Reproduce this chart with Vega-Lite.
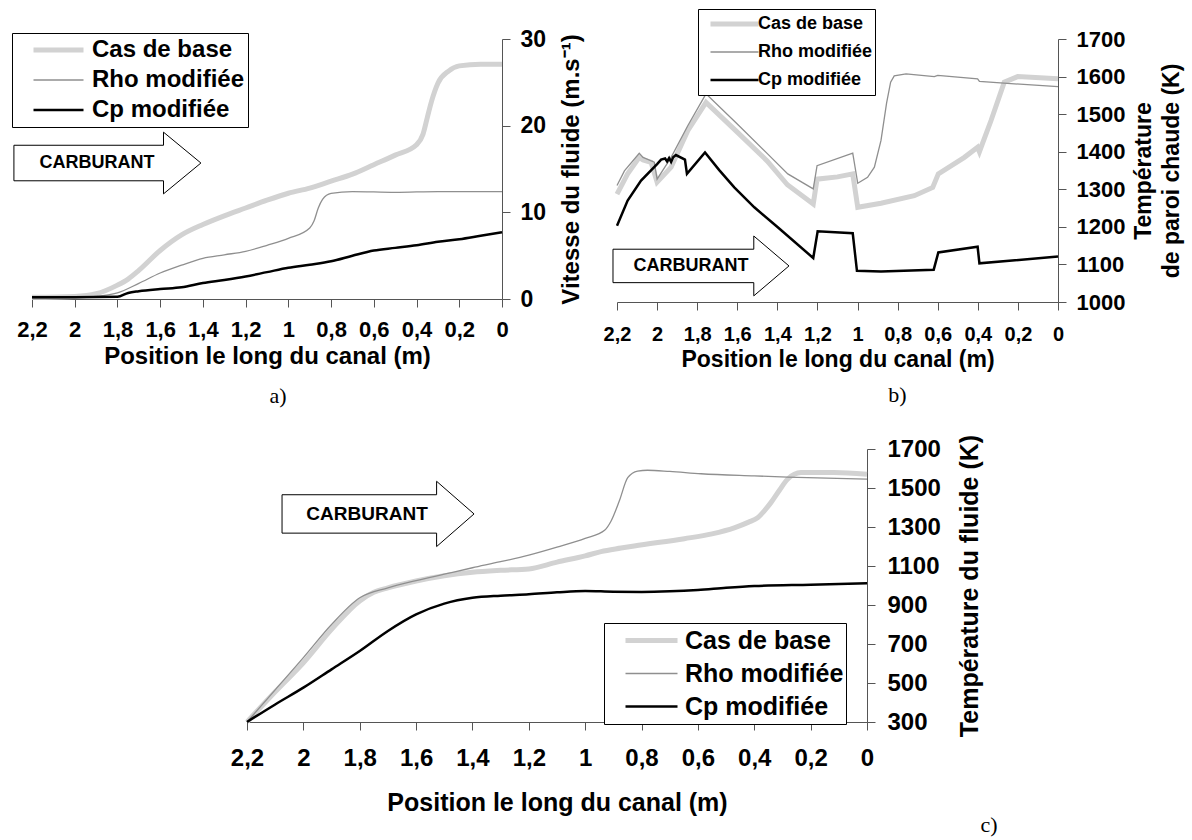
{
  "$schema": "https://vega.github.io/schema/vega-lite/v6.json",
  "padding": {"left": 11, "top": 8, "right": 2, "bottom": 2},
  "background": "white",
  "config": {
    "font": "Liberation Sans",
    "view": {"stroke": null},
    "axis": {"grid": false, "labelFont": "Liberation Sans", "labelFontWeight": "bold", "labelColor": "black", "titleFont": "Liberation Sans", "titleFontWeight": "bold", "titleColor": "black", "domainColor": "#555555", "tickColor": "#555555", "tickSize": 8, "labelFlush": false, "labelOverlap": false},
    "legend": {"symbolType": "stroke", "labelFont": "Liberation Sans", "labelFontWeight": "bold", "labelColor": "black", "strokeColor": "black", "fillColor": "white", "orient": "none", "title": null, "labelLimit": 400},
    "title": {"font": "Liberation Serif", "fontWeight": "normal", "color": "black"}
  },
  "datasets": {
    "a": [
      {"position": 2.2, "valeur": 0.2, "serie": "Cas de base"},
      {"position": 2.0, "valeur": 0.3, "serie": "Cas de base"},
      {"position": 1.9, "valeur": 0.6, "serie": "Cas de base"},
      {"position": 1.8, "valeur": 1.6, "serie": "Cas de base"},
      {"position": 1.75, "valeur": 2.3, "serie": "Cas de base"},
      {"position": 1.7, "valeur": 3.3, "serie": "Cas de base"},
      {"position": 1.6, "valeur": 5.6, "serie": "Cas de base"},
      {"position": 1.5, "valeur": 7.4, "serie": "Cas de base"},
      {"position": 1.4, "valeur": 8.6, "serie": "Cas de base"},
      {"position": 1.3, "valeur": 9.6, "serie": "Cas de base"},
      {"position": 1.2, "valeur": 10.5, "serie": "Cas de base"},
      {"position": 1.1, "valeur": 11.4, "serie": "Cas de base"},
      {"position": 1.0, "valeur": 12.2, "serie": "Cas de base"},
      {"position": 0.9, "valeur": 12.8, "serie": "Cas de base"},
      {"position": 0.8, "valeur": 13.6, "serie": "Cas de base"},
      {"position": 0.7, "valeur": 14.4, "serie": "Cas de base"},
      {"position": 0.6, "valeur": 15.5, "serie": "Cas de base"},
      {"position": 0.5, "valeur": 16.6, "serie": "Cas de base"},
      {"position": 0.4, "valeur": 17.8, "serie": "Cas de base"},
      {"position": 0.37, "valeur": 19.0, "serie": "Cas de base"},
      {"position": 0.35, "valeur": 20.9, "serie": "Cas de base"},
      {"position": 0.33, "valeur": 22.8, "serie": "Cas de base"},
      {"position": 0.3, "valeur": 24.9, "serie": "Cas de base"},
      {"position": 0.25, "valeur": 26.3, "serie": "Cas de base"},
      {"position": 0.2, "valeur": 26.9, "serie": "Cas de base"},
      {"position": 0.1, "valeur": 27.1, "serie": "Cas de base"},
      {"position": 0.0, "valeur": 27.1, "serie": "Cas de base"},
      {"position": 2.2, "valeur": 0.1, "serie": "Rho modifiée"},
      {"position": 2.0, "valeur": 0.2, "serie": "Rho modifiée"},
      {"position": 1.9, "valeur": 0.3, "serie": "Rho modifiée"},
      {"position": 1.8, "valeur": 0.7, "serie": "Rho modifiée"},
      {"position": 1.7, "valeur": 1.8, "serie": "Rho modifiée"},
      {"position": 1.6, "valeur": 3.0, "serie": "Rho modifiée"},
      {"position": 1.5, "valeur": 3.9, "serie": "Rho modifiée"},
      {"position": 1.4, "valeur": 4.7, "serie": "Rho modifiée"},
      {"position": 1.3, "valeur": 5.1, "serie": "Rho modifiée"},
      {"position": 1.2, "valeur": 5.5, "serie": "Rho modifiée"},
      {"position": 1.1, "valeur": 6.2, "serie": "Rho modifiée"},
      {"position": 1.0, "valeur": 7.0, "serie": "Rho modifiée"},
      {"position": 0.9, "valeur": 8.2, "serie": "Rho modifiée"},
      {"position": 0.88, "valeur": 9.0, "serie": "Rho modifiée"},
      {"position": 0.86, "valeur": 10.5, "serie": "Rho modifiée"},
      {"position": 0.84, "valeur": 11.5, "serie": "Rho modifiée"},
      {"position": 0.8, "valeur": 12.2, "serie": "Rho modifiée"},
      {"position": 0.7, "valeur": 12.4, "serie": "Rho modifiée"},
      {"position": 0.5, "valeur": 12.3, "serie": "Rho modifiée"},
      {"position": 0.3, "valeur": 12.4, "serie": "Rho modifiée"},
      {"position": 0.0, "valeur": 12.4, "serie": "Rho modifiée"},
      {"position": 2.2, "valeur": 0.2, "serie": "Cp modifiée"},
      {"position": 2.0, "valeur": 0.2, "serie": "Cp modifiée"},
      {"position": 1.8, "valeur": 0.25, "serie": "Cp modifiée"},
      {"position": 1.75, "valeur": 0.7, "serie": "Cp modifiée"},
      {"position": 1.7, "valeur": 0.9, "serie": "Cp modifiée"},
      {"position": 1.6, "valeur": 1.15, "serie": "Cp modifiée"},
      {"position": 1.5, "valeur": 1.35, "serie": "Cp modifiée"},
      {"position": 1.4, "valeur": 1.85, "serie": "Cp modifiée"},
      {"position": 1.3, "valeur": 2.2, "serie": "Cp modifiée"},
      {"position": 1.2, "valeur": 2.6, "serie": "Cp modifiée"},
      {"position": 1.1, "valeur": 3.1, "serie": "Cp modifiée"},
      {"position": 1.0, "valeur": 3.6, "serie": "Cp modifiée"},
      {"position": 0.9, "valeur": 3.95, "serie": "Cp modifiée"},
      {"position": 0.8, "valeur": 4.35, "serie": "Cp modifiée"},
      {"position": 0.7, "valeur": 5.0, "serie": "Cp modifiée"},
      {"position": 0.6, "valeur": 5.6, "serie": "Cp modifiée"},
      {"position": 0.5, "valeur": 5.9, "serie": "Cp modifiée"},
      {"position": 0.4, "valeur": 6.2, "serie": "Cp modifiée"},
      {"position": 0.3, "valeur": 6.6, "serie": "Cp modifiée"},
      {"position": 0.2, "valeur": 6.9, "serie": "Cp modifiée"},
      {"position": 0.1, "valeur": 7.3, "serie": "Cp modifiée"},
      {"position": 0.0, "valeur": 7.7, "serie": "Cp modifiée"}
    ],
    "b": [
      {"position": 2.2, "valeur": 1287, "serie": "Cas de base"},
      {"position": 2.147, "valeur": 1341, "serie": "Cas de base"},
      {"position": 2.089, "valeur": 1385, "serie": "Cas de base"},
      {"position": 2.07, "valeur": 1378, "serie": "Cas de base"},
      {"position": 2.03, "valeur": 1372, "serie": "Cas de base"},
      {"position": 2.0, "valeur": 1319, "serie": "Cas de base"},
      {"position": 1.93, "valeur": 1359, "serie": "Cas de base"},
      {"position": 1.847, "valeur": 1456, "serie": "Cas de base"},
      {"position": 1.756, "valeur": 1531, "serie": "Cas de base"},
      {"position": 1.6, "valeur": 1452, "serie": "Cas de base"},
      {"position": 1.45, "valeur": 1375, "serie": "Cas de base"},
      {"position": 1.35, "valeur": 1312, "serie": "Cas de base"},
      {"position": 1.221, "valeur": 1261, "serie": "Cas de base"},
      {"position": 1.202, "valeur": 1327, "serie": "Cas de base"},
      {"position": 1.1, "valeur": 1333, "serie": "Cas de base"},
      {"position": 1.024, "valeur": 1341, "serie": "Cas de base"},
      {"position": 0.999, "valeur": 1252, "serie": "Cas de base"},
      {"position": 0.883, "valeur": 1263, "serie": "Cas de base"},
      {"position": 0.717, "valeur": 1283, "serie": "Cas de base"},
      {"position": 0.625, "valeur": 1305, "serie": "Cas de base"},
      {"position": 0.597, "valeur": 1341, "serie": "Cas de base"},
      {"position": 0.467, "valeur": 1385, "serie": "Cas de base"},
      {"position": 0.401, "valeur": 1412, "serie": "Cas de base"},
      {"position": 0.392, "valeur": 1400, "serie": "Cas de base"},
      {"position": 0.334, "valeur": 1483, "serie": "Cas de base"},
      {"position": 0.268, "valeur": 1585, "serie": "Cas de base"},
      {"position": 0.201, "valeur": 1600, "serie": "Cas de base"},
      {"position": 0.0, "valeur": 1594, "serie": "Cas de base"},
      {"position": 2.2, "valeur": 1310, "serie": "Rho modifiée"},
      {"position": 2.163, "valeur": 1349, "serie": "Rho modifiée"},
      {"position": 2.089, "valeur": 1396, "serie": "Rho modifiée"},
      {"position": 2.07, "valeur": 1385, "serie": "Rho modifiée"},
      {"position": 2.014, "valeur": 1372, "serie": "Rho modifiée"},
      {"position": 2.0, "valeur": 1327, "serie": "Rho modifiée"},
      {"position": 1.93, "valeur": 1385, "serie": "Rho modifiée"},
      {"position": 1.847, "valeur": 1469, "serie": "Rho modifiée"},
      {"position": 1.756, "valeur": 1554, "serie": "Rho modifiée"},
      {"position": 1.6, "valeur": 1474, "serie": "Rho modifiée"},
      {"position": 1.45, "valeur": 1395, "serie": "Rho modifiée"},
      {"position": 1.348, "valeur": 1341, "serie": "Rho modifiée"},
      {"position": 1.221, "valeur": 1301, "serie": "Rho modifiée"},
      {"position": 1.202, "valeur": 1363, "serie": "Rho modifiée"},
      {"position": 1.024, "valeur": 1396, "serie": "Rho modifiée"},
      {"position": 0.999, "valeur": 1316, "serie": "Rho modifiée"},
      {"position": 0.95, "valeur": 1332, "serie": "Rho modifiée"},
      {"position": 0.916, "valeur": 1359, "serie": "Rho modifiée"},
      {"position": 0.883, "valeur": 1430, "serie": "Rho modifiée"},
      {"position": 0.855, "valeur": 1530, "serie": "Rho modifiée"},
      {"position": 0.835, "valeur": 1585, "serie": "Rho modifiée"},
      {"position": 0.817, "valeur": 1602, "serie": "Rho modifiée"},
      {"position": 0.758, "valeur": 1607, "serie": "Rho modifiée"},
      {"position": 0.617, "valeur": 1600, "serie": "Rho modifiée"},
      {"position": 0.6, "valeur": 1603, "serie": "Rho modifiée"},
      {"position": 0.401, "valeur": 1594, "serie": "Rho modifiée"},
      {"position": 0.392, "valeur": 1587, "serie": "Rho modifiée"},
      {"position": 0.0, "valeur": 1573, "serie": "Rho modifiée"},
      {"position": 2.2, "valeur": 1203, "serie": "Cp modifiée"},
      {"position": 2.147, "valeur": 1270, "serie": "Cp modifiée"},
      {"position": 2.08, "valeur": 1323, "serie": "Cp modifiée"},
      {"position": 2.0, "valeur": 1367, "serie": "Cp modifiée"},
      {"position": 1.98, "valeur": 1379, "serie": "Cp modifiée"},
      {"position": 1.96, "valeur": 1382, "serie": "Cp modifiée"},
      {"position": 1.95, "valeur": 1374, "serie": "Cp modifiée"},
      {"position": 1.94, "valeur": 1383, "serie": "Cp modifiée"},
      {"position": 1.93, "valeur": 1373, "serie": "Cp modifiée"},
      {"position": 1.92, "valeur": 1385, "serie": "Cp modifiée"},
      {"position": 1.906, "valeur": 1391, "serie": "Cp modifiée"},
      {"position": 1.861, "valeur": 1379, "serie": "Cp modifiée"},
      {"position": 1.851, "valeur": 1341, "serie": "Cp modifiée"},
      {"position": 1.761, "valeur": 1398, "serie": "Cp modifiée"},
      {"position": 1.69, "valeur": 1351, "serie": "Cp modifiée"},
      {"position": 1.615, "valeur": 1305, "serie": "Cp modifiée"},
      {"position": 1.515, "valeur": 1252, "serie": "Cp modifiée"},
      {"position": 1.398, "valeur": 1199, "serie": "Cp modifiée"},
      {"position": 1.221, "valeur": 1117, "serie": "Cp modifiée"},
      {"position": 1.199, "valeur": 1188, "serie": "Cp modifiée"},
      {"position": 1.024, "valeur": 1183, "serie": "Cp modifiée"},
      {"position": 1.003, "valeur": 1083, "serie": "Cp modifiée"},
      {"position": 0.883, "valeur": 1081, "serie": "Cp modifiée"},
      {"position": 0.62, "valeur": 1086, "serie": "Cp modifiée"},
      {"position": 0.597, "valeur": 1132, "serie": "Cp modifiée"},
      {"position": 0.401, "valeur": 1147, "serie": "Cp modifiée"},
      {"position": 0.392, "valeur": 1103, "serie": "Cp modifiée"},
      {"position": 0.0, "valeur": 1121, "serie": "Cp modifiée"}
    ],
    "c": [
      {"position": 2.2, "valeur": 300, "serie": "Cas de base"},
      {"position": 2.1, "valeur": 455, "serie": "Cas de base"},
      {"position": 2.0, "valeur": 604, "serie": "Cas de base"},
      {"position": 1.9, "valeur": 775, "serie": "Cas de base"},
      {"position": 1.8, "valeur": 921, "serie": "Cas de base"},
      {"position": 1.75, "valeur": 965, "serie": "Cas de base"},
      {"position": 1.7, "valeur": 988, "serie": "Cas de base"},
      {"position": 1.6, "valeur": 1023, "serie": "Cas de base"},
      {"position": 1.5, "valeur": 1050, "serie": "Cas de base"},
      {"position": 1.4, "valeur": 1068, "serie": "Cas de base"},
      {"position": 1.3, "valeur": 1078, "serie": "Cas de base"},
      {"position": 1.2, "valeur": 1085, "serie": "Cas de base"},
      {"position": 1.1, "valeur": 1120, "serie": "Cas de base"},
      {"position": 1.0, "valeur": 1152, "serie": "Cas de base"},
      {"position": 0.944, "valeur": 1174, "serie": "Cas de base"},
      {"position": 0.873, "valeur": 1192, "serie": "Cas de base"},
      {"position": 0.826, "valeur": 1203, "serie": "Cas de base"},
      {"position": 0.648, "valeur": 1240, "serie": "Cas de base"},
      {"position": 0.55, "valeur": 1265, "serie": "Cas de base"},
      {"position": 0.471, "valeur": 1296, "serie": "Cas de base"},
      {"position": 0.42, "valeur": 1325, "serie": "Cas de base"},
      {"position": 0.388, "valeur": 1348, "serie": "Cas de base"},
      {"position": 0.341, "valeur": 1425, "serie": "Cas de base"},
      {"position": 0.31, "valeur": 1490, "serie": "Cas de base"},
      {"position": 0.282, "valeur": 1545, "serie": "Cas de base"},
      {"position": 0.234, "valeur": 1579, "serie": "Cas de base"},
      {"position": 0.118, "valeur": 1580, "serie": "Cas de base"},
      {"position": 0.0, "valeur": 1571, "serie": "Cas de base"},
      {"position": 2.2, "valeur": 300, "serie": "Rho modifiée"},
      {"position": 2.1, "valeur": 465, "serie": "Rho modifiée"},
      {"position": 2.0, "valeur": 630, "serie": "Rho modifiée"},
      {"position": 1.9, "valeur": 800, "serie": "Rho modifiée"},
      {"position": 1.8, "valeur": 937, "serie": "Rho modifiée"},
      {"position": 1.7, "valeur": 988, "serie": "Rho modifiée"},
      {"position": 1.6, "valeur": 1025, "serie": "Rho modifiée"},
      {"position": 1.5, "valeur": 1058, "serie": "Rho modifiée"},
      {"position": 1.4, "valeur": 1091, "serie": "Rho modifiée"},
      {"position": 1.3, "valeur": 1122, "serie": "Rho modifiée"},
      {"position": 1.2, "valeur": 1156, "serie": "Rho modifiée"},
      {"position": 1.1, "valeur": 1197, "serie": "Rho modifiée"},
      {"position": 1.0, "valeur": 1242, "serie": "Rho modifiée"},
      {"position": 0.93, "valeur": 1285, "serie": "Rho modifiée"},
      {"position": 0.908, "valeur": 1331, "serie": "Rho modifiée"},
      {"position": 0.879, "valeur": 1433, "serie": "Rho modifiée"},
      {"position": 0.849, "valeur": 1553, "serie": "Rho modifiée"},
      {"position": 0.814, "valeur": 1587, "serie": "Rho modifiée"},
      {"position": 0.779, "valeur": 1591, "serie": "Rho modifiée"},
      {"position": 0.7, "valeur": 1585, "serie": "Rho modifiée"},
      {"position": 0.589, "valeur": 1573, "serie": "Rho modifiée"},
      {"position": 0.4, "valeur": 1562, "serie": "Rho modifiée"},
      {"position": 0.282, "valeur": 1556, "serie": "Rho modifiée"},
      {"position": 0.0, "valeur": 1545, "serie": "Rho modifiée"},
      {"position": 2.2, "valeur": 300, "serie": "Cp modifiée"},
      {"position": 2.1, "valeur": 390, "serie": "Cp modifiée"},
      {"position": 2.0, "valeur": 476, "serie": "Cp modifiée"},
      {"position": 1.9, "valeur": 570, "serie": "Cp modifiée"},
      {"position": 1.8, "valeur": 664, "serie": "Cp modifiée"},
      {"position": 1.7, "valeur": 767, "serie": "Cp modifiée"},
      {"position": 1.6, "valeur": 852, "serie": "Cp modifiée"},
      {"position": 1.5, "valeur": 907, "serie": "Cp modifiée"},
      {"position": 1.4, "valeur": 937, "serie": "Cp modifiée"},
      {"position": 1.3, "valeur": 948, "serie": "Cp modifiée"},
      {"position": 1.2, "valeur": 955, "serie": "Cp modifiée"},
      {"position": 1.1, "valeur": 965, "serie": "Cp modifiée"},
      {"position": 1.0, "valeur": 972, "serie": "Cp modifiée"},
      {"position": 0.9, "valeur": 968, "serie": "Cp modifiée"},
      {"position": 0.8, "valeur": 967, "serie": "Cp modifiée"},
      {"position": 0.7, "valeur": 970, "serie": "Cp modifiée"},
      {"position": 0.6, "valeur": 977, "serie": "Cp modifiée"},
      {"position": 0.5, "valeur": 988, "serie": "Cp modifiée"},
      {"position": 0.4, "valeur": 997, "serie": "Cp modifiée"},
      {"position": 0.2, "valeur": 1004, "serie": "Cp modifiée"},
      {"position": 0.0, "valeur": 1011, "serie": "Cp modifiée"}
    ],
    "fleche": [{"texte": "CARBURANT"}]
  },
  "spacing": 27,
  "resolve": {"scale": {"x": "independent", "y": "independent", "color": "independent", "strokeWidth": "independent"}, "legend": {"color": "independent", "strokeWidth": "independent"}},
  "vconcat": [
    {
      "hconcat": [
        {
          "width": 470,
          "height": 260,
          "title": {"text": "a)", "orient": "bottom", "anchor": "middle", "dx": 11, "offset": 18, "fontSize": 22},
          "resolve": {"axis": {"x": "independent", "y": "independent"}},
          "layer": [
            {
              "data": {"name": "a"},
              "mark": {"type": "line", "interpolate": "monotone"},
              "encoding": {
                "x": {"field": "position", "type": "quantitative", "scale": {"domain": [0, 2.2], "reverse": true, "nice": false, "zero": false},
                  "axis": {"orient": "bottom", "values": [2.2, 2, 1.8, 1.6, 1.4, 1.2, 1, 0.8, 0.6, 0.4, 0.2, 0], "labelExpr": "replace(format(datum.value, '.1~f'), '.', ',')", "labelFontSize": 22, "labelPadding": 12, "title": "Position le long du canal (m)", "titleFontSize": 24, "titlePadding": 4}},
                "y": {"field": "valeur", "type": "quantitative", "scale": {"domain": [0, 30], "nice": false},
                  "axis": {"orient": "right", "values": [0, 10, 20, 30], "labelFontSize": 23, "labelPadding": 10, "title": "Vitesse du fluide (m.s⁻¹)", "titleFontSize": 24, "titleAngle": 270, "titleBaseline": "top", "titlePadding": 14}},
                "color": {"field": "serie", "type": "nominal", "scale": {"domain": ["Cas de base", "Rho modifiée", "Cp modifiée"], "range": ["#d2d2d2", "#8f8f8f", "#000000"]},
                  "legend": {"legendX": -20, "legendY": -6, "labelFontSize": 24, "symbolSize": 2500, "clipHeight": 28, "padding": 3, "symbolOffset": 16, "labelOffset": 6}},
                "strokeWidth": {"field": "serie", "type": "nominal", "scale": {"type": "ordinal", "domain": ["Cas de base", "Rho modifiée", "Cp modifiée"], "range": [5, 1.3, 2.5]}}
              }
            },
            {
              "data": {"name": "fleche"},
              "mark": {"type": "point", "shape": "M-1,-0.19L0.6,-0.19L0.6,-0.33L1,0L0.6,0.33L0.6,0.19L-1,0.19Z", "filled": true, "fill": "white", "stroke": "black", "strokeWidth": 1, "opacity": 1, "size": 34969},
              "encoding": {"x": {"datum": 1.847, "type": "quantitative", "axis": null}, "y": {"datum": 15.69, "type": "quantitative", "axis": null}}
            },
            {
              "data": {"name": "fleche"},
              "mark": {"type": "text", "fontSize": 18, "fontWeight": "bold", "font": "Liberation Sans", "color": "black"},
              "encoding": {"x": {"datum": 1.896, "type": "quantitative", "axis": null}, "y": {"datum": 15.69, "type": "quantitative", "axis": null}, "text": {"field": "texte"}}
            }
          ]
        },
        {
          "width": 441,
          "height": 263,
          "title": {"text": "b)", "orient": "bottom", "anchor": "middle", "dx": 60, "offset": 14, "fontSize": 22},
          "resolve": {"axis": {"x": "independent", "y": "independent"}},
          "layer": [
            {
              "data": {"name": "b"},
              "mark": {"type": "line", "interpolate": "linear"},
              "encoding": {
                "x": {"field": "position", "type": "quantitative", "scale": {"domain": [0, 2.2], "reverse": true, "nice": false, "zero": false},
                  "axis": {"orient": "bottom", "values": [2.2, 2, 1.8, 1.6, 1.4, 1.2, 1, 0.8, 0.6, 0.4, 0.2, 0], "labelExpr": "replace(format(datum.value, '.1~f'), '.', ',')", "labelFontSize": 20, "labelPadding": 14, "title": "Position le long du canal (m)", "titleFontSize": 23, "titlePadding": 4}},
                "y": {"field": "valeur", "type": "quantitative", "scale": {"domain": [1000, 1700], "nice": false, "zero": false},
                  "axis": {"orient": "right", "values": [1000, 1100, 1200, 1300, 1400, 1500, 1600, 1700], "format": "d", "labelFontSize": 22, "labelPadding": 10, "title": ["Température", "de paroi chaude (K)"], "titleFontSize": 23, "titleLineHeight": 28, "titleAngle": 270, "titleBaseline": "top", "titlePadding": -20}},
                "color": {"field": "serie", "type": "nominal", "scale": {"domain": ["Cas de base", "Rho modifiée", "Cp modifiée"], "range": ["#d2d2d2", "#8f8f8f", "#000000"]},
                  "legend": {"legendX": 81, "legendY": -30, "labelFontSize": 18, "symbolSize": 2304, "clipHeight": 26, "padding": 2, "symbolOffset": 8, "labelOffset": -3}},
                "strokeWidth": {"field": "serie", "type": "nominal", "scale": {"type": "ordinal", "domain": ["Cas de base", "Rho modifiée", "Cp modifiée"], "range": [5, 1.3, 2.5]}}
              }
            },
            {
              "data": {"name": "fleche"},
              "mark": {"type": "point", "shape": "M-1,-0.19L0.6,-0.19L0.6,-0.34L1,0L0.6,0.34L0.6,0.19L-1,0.19Z", "filled": true, "fill": "white", "stroke": "black", "strokeWidth": 1, "opacity": 1, "size": 30976},
              "encoding": {"x": {"datum": 1.781, "type": "quantitative", "axis": null}, "y": {"datum": 1096, "type": "quantitative", "axis": null}}
            },
            {
              "data": {"name": "fleche"},
              "mark": {"type": "text", "fontSize": 18, "fontWeight": "bold", "font": "Liberation Sans", "color": "black"},
              "encoding": {"x": {"datum": 1.831, "type": "quantitative", "axis": null}, "y": {"datum": 1096, "type": "quantitative", "axis": null}, "text": {"field": "texte"}}
            }
          ]
        }
      ],
      "spacing": 115,
      "bounds": "flush",
      "resolve": {"scale": {"x": "independent", "y": "independent", "color": "independent", "strokeWidth": "independent"}, "legend": {"color": "independent", "strokeWidth": "independent"}}
    },
    {
      "hconcat": [
        {
          "width": 215,
          "height": 1,
          "data": {"values": []},
          "mark": {"type": "point", "opacity": 0},
          "encoding": {}
        },
        {
          "width": 620,
          "height": 273,
          "title": {"text": "c)", "orient": "bottom", "anchor": "middle", "dx": 432, "offset": 0, "fontSize": 22},
          "resolve": {"axis": {"x": "independent", "y": "independent"}},
          "layer": [
            {
              "data": {"name": "c"},
              "mark": {"type": "line", "interpolate": "monotone"},
              "encoding": {
                "x": {"field": "position", "type": "quantitative", "scale": {"domain": [0, 2.2], "reverse": true, "nice": false, "zero": false},
                  "axis": {"orient": "bottom", "values": [2.2, 2, 1.8, 1.6, 1.4, 1.2, 1, 0.8, 0.6, 0.4, 0.2, 0], "labelExpr": "replace(format(datum.value, '.1~f'), '.', ',')", "labelFontSize": 24, "labelPadding": 16, "title": "Position le long du canal (m)", "titleFontSize": 25, "titlePadding": 20}},
                "y": {"field": "valeur", "type": "quantitative", "scale": {"domain": [300, 1700], "nice": false, "zero": false},
                  "axis": {"orient": "right", "values": [300, 500, 700, 900, 1100, 1300, 1500, 1700], "format": "d", "labelFontSize": 24, "labelPadding": 12, "title": "Température du fluide (K)", "titleFontSize": 25, "titleAngle": 270, "titleBaseline": "top", "titlePadding": 17}},
                "color": {"field": "serie", "type": "nominal", "scale": {"domain": ["Cas de base", "Rho modifiée", "Cp modifiée"], "range": ["#d2d2d2", "#8f8f8f", "#000000"]},
                  "legend": {"legendX": 357, "legendY": 174, "labelFontSize": 25, "symbolSize": 2704, "clipHeight": 31, "padding": 2, "symbolOffset": 17, "labelOffset": 5}},
                "strokeWidth": {"field": "serie", "type": "nominal", "scale": {"type": "ordinal", "domain": ["Cas de base", "Rho modifiée", "Cp modifiée"], "range": [5, 1.3, 2.5]}}
              }
            },
            {
              "data": {"name": "fleche"},
              "mark": {"type": "point", "shape": "M-1,-0.2L0.61,-0.2L0.61,-0.34L1,0L0.61,0.34L0.61,0.2L-1,0.2Z", "filled": true, "fill": "white", "stroke": "black", "strokeWidth": 1, "opacity": 1, "size": 36864},
              "encoding": {"x": {"datum": 1.735, "type": "quantitative", "axis": null}, "y": {"datum": 1367, "type": "quantitative", "axis": null}}
            },
            {
              "data": {"name": "fleche"},
              "mark": {"type": "text", "fontSize": 19, "fontWeight": "bold", "font": "Liberation Sans", "color": "black"},
              "encoding": {"x": {"datum": 1.774, "type": "quantitative", "axis": null}, "y": {"datum": 1367, "type": "quantitative", "axis": null}, "text": {"field": "texte"}}
            }
          ]
        }
      ],
      "spacing": 0,
      "bounds": "flush",
      "resolve": {"scale": {"x": "independent", "y": "independent", "color": "independent", "strokeWidth": "independent"}, "legend": {"color": "independent", "strokeWidth": "independent"}}
    }
  ]
}
